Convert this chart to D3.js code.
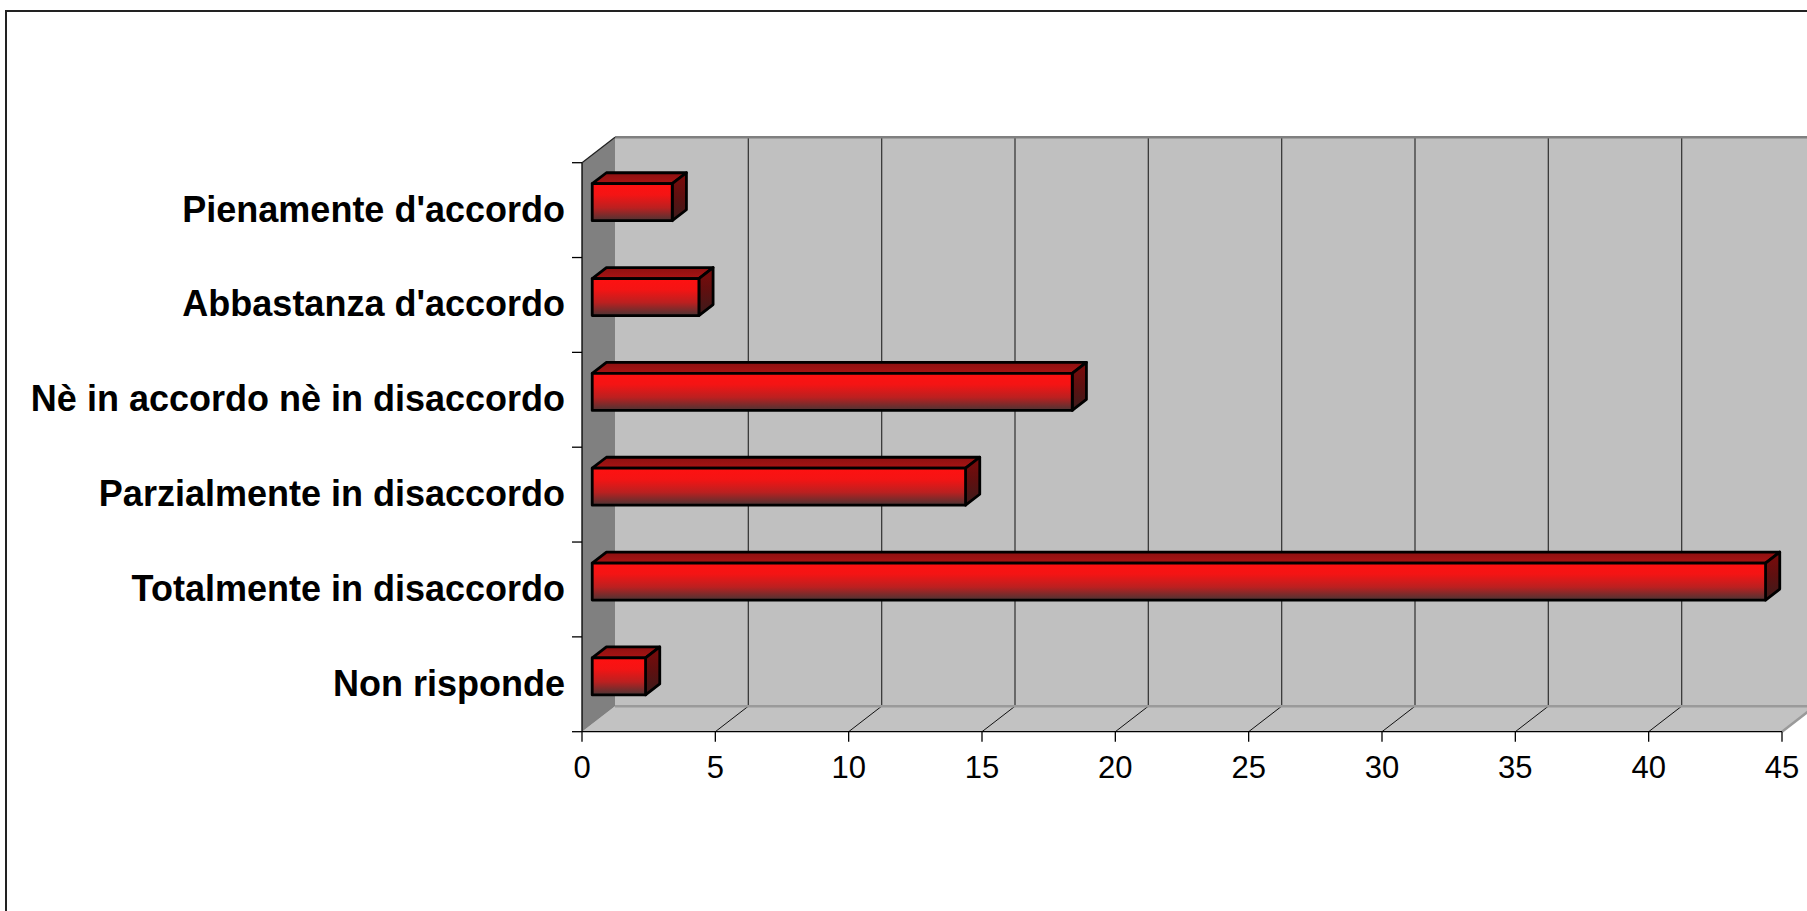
<!DOCTYPE html>
<html>
<head>
<meta charset="utf-8">
<script src="https://cdn.jsdelivr.net/npm/d3@7"></script>
<style>
  html, body { margin: 0; padding: 0; background: #ffffff; }
  svg { display: block; }
</style>
</head>
<body>
<svg id="chart" width="1807" height="911"></svg>
<script>
// ---- data ----
const categories = [
  "Pienamente d'accordo",
  "Abbastanza d'accordo",
  "Nè in accordo nè in disaccordo",
  "Parzialmente in disaccordo",
  "Totalmente in disaccordo",
  "Non risponde"
];
const values = [3, 4, 18, 14, 44, 2];
const tickValues = [0, 5, 10, 15, 20, 25, 30, 35, 40, 45];

// ---- layout ----
const svg = d3.select("#chart");
const W = 1807, H = 911;
const x = d3.scaleLinear().domain([0, 45]).range([582, 1782]);
const y = d3.scaleBand().domain(categories).range([162.7, 731.7]);
const DX = 33, DY = -25.5;              // depth of the 3D box
const barD0 = 0.31, barD1 = 0.74;       // bar depth position (fraction)
const barH = 37;

const defs = svg.append("defs");
const gFront = defs.append("linearGradient").attr("id", "gFront")
  .attr("x1", 0).attr("y1", 0).attr("x2", 0).attr("y2", 1);
[[0, "#ff1111"], [0.3, "#f41414"], [0.65, "#bb2020"], [1, "#4a3434"]]
  .forEach(([o, c]) => gFront.append("stop").attr("offset", o).attr("stop-color", c));
const gSide = defs.append("linearGradient").attr("id", "gSide")
  .attr("x1", 0).attr("y1", 0).attr("x2", 0).attr("y2", 1);
[[0, "#7e0a0a"], [0.5, "#5e1010"], [1, "#3a1c1c"]]
  .forEach(([o, c]) => gSide.append("stop").attr("offset", o).attr("stop-color", c));
const gTop = defs.append("linearGradient").attr("id", "gTop")
  .attr("x1", 0).attr("y1", 0).attr("x2", 0).attr("y2", 1);
[[0, "#8c1010"], [1, "#a81414"]]
  .forEach(([o, c]) => gTop.append("stop").attr("offset", o).attr("stop-color", c));

// outer border
svg.append("rect").attr("x", 6).attr("y", 11).attr("width", W + 20).attr("height", H + 20)
  .attr("fill", "#ffffff").attr("stroke", "#222").attr("stroke-width", 2);

const y0 = y.range()[0], y1 = y.range()[1];
const x0 = x(0), xMax = x(45);
const line = d3.line();

// back wall
svg.append("path")
  .attr("d", line([[x0 + DX, y0 + DY], [xMax + DX, y0 + DY], [xMax + DX, y1 + DY], [x0 + DX, y1 + DY]]) + "Z")
  .attr("fill", "#c0c0c0");
// floor
svg.append("path")
  .attr("d", line([[x0, y1], [x0 + DX, y1 + DY], [xMax + DX, y1 + DY], [xMax, y1]]) + "Z")
  .attr("fill", "#c2c2c2");
// side wall
svg.append("path")
  .attr("d", line([[x0, y0], [x0 + DX, y0 + DY], [x0 + DX, y1 + DY], [x0, y1]]) + "Z")
  .attr("fill", "#808080");

// gridlines on back wall and floor
tickValues.filter(v => v > 0).forEach(v => {
  svg.append("line")
    .attr("x1", x(v) + DX).attr("x2", x(v) + DX)
    .attr("y1", y0 + DY).attr("y2", y1 + DY)
    .attr("stroke", "#3a3a3a").attr("stroke-width", 1.3);
  svg.append("line")
    .attr("x1", x(v)).attr("y1", y1)
    .attr("x2", x(v) + DX).attr("y2", y1 + DY)
    .attr("stroke", "#111").attr("stroke-width", 1);
});
// back wall top & bottom edges
svg.append("line").attr("x1", x0 + DX).attr("x2", xMax + DX)
  .attr("y1", y0 + DY).attr("y2", y0 + DY).attr("stroke", "#808080").attr("stroke-width", 2.5);
svg.append("line").attr("x1", x0 + DX).attr("x2", xMax + DX)
  .attr("y1", y1 + DY).attr("y2", y1 + DY).attr("stroke", "#9a9a9a").attr("stroke-width", 2.5);
// floor right edge
svg.append("line").attr("x1", xMax).attr("y1", y1).attr("x2", xMax + DX).attr("y2", y1 + DY)
  .attr("stroke", "#9a9a9a").attr("stroke-width", 2.5);
// side wall top edge
svg.append("line").attr("x1", x0).attr("y1", y0).attr("x2", x0 + DX).attr("y2", y0 + DY)
  .attr("stroke", "#222").attr("stroke-width", 1.3);

// value axis (front bottom)
svg.append("line").attr("x1", x0).attr("x2", xMax).attr("y1", y1).attr("y2", y1)
  .attr("stroke", "#000").attr("stroke-width", 1.3);
tickValues.forEach(v => {
  svg.append("line").attr("x1", x(v)).attr("x2", x(v)).attr("y1", y1).attr("y2", y1 + 10)
    .attr("stroke", "#000").attr("stroke-width", 1.3);
  svg.append("text").attr("x", x(v)).attr("y", y1 + 46)
    .attr("text-anchor", "middle")
    .attr("font-family", "'Liberation Sans', Arial, sans-serif")
    .style("font-size", "31px").attr("fill", "#000").text(v);
});

// category axis (front left)
svg.append("line").attr("x1", x0).attr("x2", x0).attr("y1", y0).attr("y2", y1)
  .attr("stroke", "#000").attr("stroke-width", 1.3);
const bounds = categories.map(c => y(c)).concat([y1]);
bounds.forEach(b => {
  svg.append("line").attr("x1", x0 - 10).attr("x2", x0).attr("y1", b).attr("y2", b)
    .attr("stroke", "#000").attr("stroke-width", 1.3);
});
categories.forEach(c => {
  svg.append("text").attr("x", 565).attr("y", y(c) + y.bandwidth() / 2)
    .attr("dy", "0.32em").attr("text-anchor", "end")
    .attr("font-family", "'Liberation Sans', Arial, sans-serif")
    .attr("font-weight", "bold").style("font-size", "36px").attr("fill", "#000").text(c);
});

// bars
const bars = svg.append("g");
categories.forEach((c, i) => {
  const v = values[i];
  const cy = y(c) + y.bandwidth() / 2 + barD0 * DY;
  const top = cy - barH / 2, bot = cy + barH / 2;
  const l = x(0) + barD0 * DX, r = x(v) + barD0 * DX;
  const ddx = (barD1 - barD0) * DX, ddy = (barD1 - barD0) * DY;
  const g = bars.append("g").attr("stroke", "#000").attr("stroke-width", 2.8)
    .attr("stroke-linejoin", "round");
  g.append("path").attr("d", line([[l, top], [l + ddx, top + ddy], [r + ddx, top + ddy], [r, top]]) + "Z")
    .attr("fill", "url(#gTop)");
  g.append("path").attr("d", line([[r, top], [r + ddx, top + ddy], [r + ddx, bot + ddy], [r, bot]]) + "Z")
    .attr("fill", "url(#gSide)");
  g.append("path").attr("d", line([[l, top], [r, top], [r, bot], [l, bot]]) + "Z")
    .attr("fill", "url(#gFront)");
});
</script>
</body>
</html>
